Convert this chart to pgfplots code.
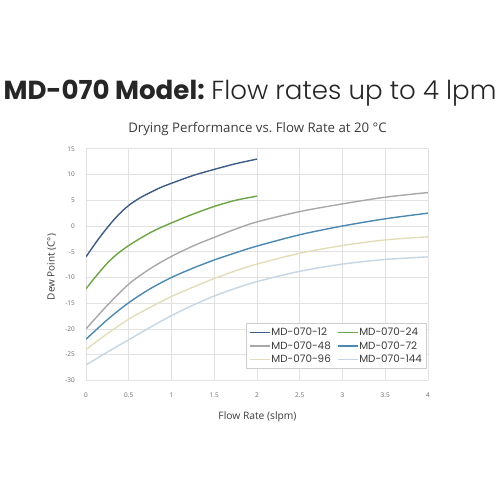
\documentclass[border=0pt]{standalone}
\usepackage{pgfplots}
\pgfplotsset{compat=1.18}
\usepackage{fontspec}
\setmainfont{Open Sans}
\newfontfamily\poppins{Poppins}
\newfontfamily\poppinslight{Poppins Light}
\definecolor{cA}{RGB}{62,92,132}
\definecolor{cB}{RGB}{108,165,70}
\definecolor{cC}{RGB}{168,168,172}
\definecolor{cD}{RGB}{75,136,178}
\definecolor{cE}{RGB}{226,222,186}
\definecolor{cF}{RGB}{198,214,228}
\definecolor{gridc}{RGB}{226,226,226}
\definecolor{tickc}{RGB}{105,105,105}
\definecolor{txtc}{RGB}{60,60,60}
\frenchspacing
\begin{document}
\begin{tikzpicture}
\path[use as bounding box, fill=white] (0,0) rectangle (500bp,500bp);
\node[anchor=base, inner sep=0pt, text=black!85] at (250bp,400bp)
  {\fontsize{26.2}{30}\selectfont{\poppins\bfseries MD-070 Model:} {\poppinslight Flow rates up to 4 lpm}};
\node[anchor=center, inner sep=0pt, text=txtc] at (257.5bp,371bp)
  {\fontsize{13.3}{15}\selectfont Drying Performance vs. Flow Rate at 20 °C};
\node[anchor=center, inner sep=0pt, text=txtc] at (257.5bp,83.3bp)
  {\fontsize{10.3}{12}\selectfont Flow Rate (slpm)};
\node[anchor=center, inner sep=0pt, text=txtc, rotate=90] at (51.7bp,233bp)
  {\fontsize{10}{12}\selectfont Dew Point~(C°)};
\begin{axis}[
  at={(86bp,119.6bp)}, anchor=south west,
  scale only axis, width=342bp, height=231.6bp,
  xmin=0, xmax=4, ymin=-30, ymax=15,
  xtick={0,0.5,...,4}, ytick={-30,-25,...,15},
  grid=major, grid style={gridc, line width=0.7bp},
  axis line style={draw=none},
  major tick length=0pt,
  /pgf/number format/assume math mode=true,
  tick label style={font=\fontsize{6.5}{8}\selectfont, text=tickc},
  yticklabel style={inner sep=0pt, xshift=-11bp, anchor=east},
  xticklabel style={inner sep=0pt, yshift=-12bp, anchor=north},
  legend columns=2,
  legend style={at={(axis description cs:0.467,0.248)}, anchor=north west,
    draw={rgb,255:red,205;green,205;blue,205}, line width=0.6bp, fill=white,
    font=\poppins\fontsize{10.4}{12}\selectfont, text=txtc,
    inner xsep=3bp, inner ysep=2.5bp, row sep=0.6bp,
    nodes={inner xsep=1bp},
    /tikz/every even column/.append style={column sep=5bp}},
  legend cell align=left,
  legend image code/.code={\draw[#1] (0bp,0bp) -- (20bp,0bp);},
  every axis plot/.append style={line width=1.4bp, smooth, no markers},
]
\addplot[cA] coordinates {(0,-6) (0.125,-3.0) (0.25,-0.3) (0.375,2.1) (0.5,4.0) (0.625,5.4) (0.75,6.5) (0.875,7.5) (1,8.3) (1.25,9.8) (1.5,11.0) (1.75,12.1) (2,13.0)};
\addlegendentry{MD-070-12}
\addplot[cB] coordinates {(0,-12.2) (0.125,-9.6) (0.25,-7.2) (0.375,-5.3) (0.5,-3.8) (0.625,-2.5) (0.75,-1.3) (0.875,-0.3) (1,0.6) (1.25,2.3) (1.5,3.8) (1.75,5.0) (2,5.8)};
\addlegendentry{MD-070-24}
\addplot[cC] coordinates {(0,-20) (0.25,-15.4) (0.5,-11.3) (0.75,-8.3) (1,-5.9) (1.25,-3.9) (1.5,-2.2) (1.75,-0.6) (2,0.8) (2.5,2.8) (3,4.3) (3.5,5.6) (4,6.5)};
\addlegendentry{MD-070-48}
\addplot[cD] coordinates {(0,-22) (0.25,-18.2) (0.5,-14.9) (0.75,-12.2) (1,-10) (1.25,-8.2) (1.5,-6.6) (1.75,-5.2) (2,-3.9) (2.5,-1.7) (3,0) (3.5,1.4) (4,2.5)};
\addlegendentry{MD-070-72}
\addplot[cE] coordinates {(0,-24) (0.25,-20.9) (0.5,-18.1) (0.75,-15.8) (1,-13.7) (1.25,-11.9) (1.5,-10.2) (1.75,-8.7) (2,-7.4) (2.5,-5.3) (3,-3.8) (3.5,-2.7) (4,-2.1)};
\addlegendentry{MD-070-96}
\addplot[cF] coordinates {(0,-27) (0.25,-24.5) (0.5,-22.1) (0.75,-19.7) (1,-17.4) (1.25,-15.4) (1.5,-13.6) (1.75,-12.1) (2,-10.8) (2.5,-8.8) (3,-7.4) (3.5,-6.5) (4,-6.0)};
\addlegendentry{MD-070-144}
\end{axis}
\end{tikzpicture}
\end{document}
